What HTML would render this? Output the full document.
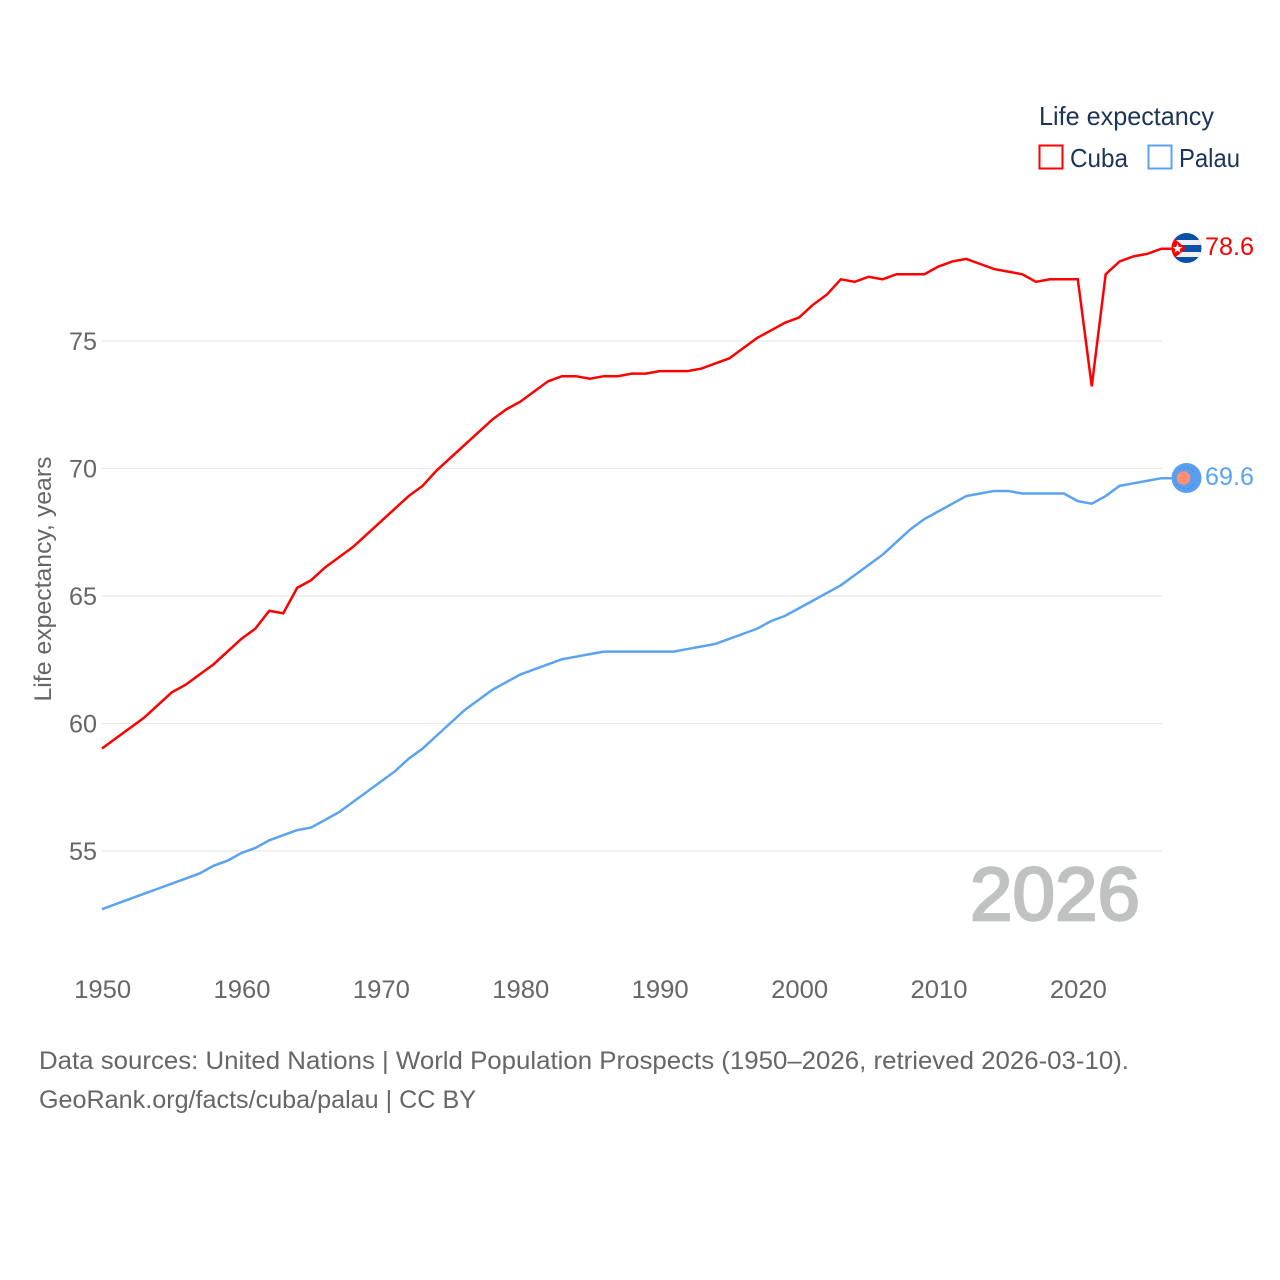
<!DOCTYPE html>
<html lang="en">
<head>
<meta charset="utf-8">
<title>Life expectancy: Cuba and Palau</title>
<style>
html,body{margin:0;padding:0;background:#fff;}
svg{display:block;}
text{font-family:"Liberation Sans",sans-serif;}
</style>
</head>
<body>
<svg id="chart" width="1280" height="1280" viewBox="0 0 1280 1280" xmlns="http://www.w3.org/2000/svg">
  <rect width="1280" height="1280" fill="#fff"/>
  <g id="grid"></g>
  <g id="yticks"></g>
  <g id="xticks"></g>
  <text transform="translate(51,579) rotate(-90)" text-anchor="middle" font-size="24" fill="#666" textLength="245" lengthAdjust="spacingAndGlyphs">Life expectancy, years</text>
  <text x="970" y="920" font-size="75" fill="#c0c2c1" stroke="#c0c2c1" stroke-width="2.4" textLength="170" lengthAdjust="spacingAndGlyphs">2026</text>
  <g id="series"></g>

  <defs>
    <clipPath id="flag-clip-cuba"><circle cx="1186.5" cy="248" r="15"/></clipPath>
    <clipPath id="flag-clip-palau"><circle cx="1186.5" cy="478" r="15"/></clipPath>
  </defs>
  <g clip-path="url(#flag-clip-cuba)">
    <rect x="1171" y="233" width="31" height="30" fill="#0a4fa8"/>
    <rect x="1171" y="240" width="31" height="5" fill="#eef0f3"/>
    <rect x="1171" y="252" width="31" height="5" fill="#eef0f3"/>
    <polygon points="1170,235 1186,248.5 1170,262" fill="#f00"/>
    <polygon points="1177.5,243.5 1178.8,247 1182.3,247 1179.5,249.2 1180.6,252.6 1177.5,250.6 1174.4,252.6 1175.5,249.2 1172.7,247 1176.2,247" fill="#fff"/>
  </g>
  <text x="1205" y="255" font-size="25" fill="#f00" textLength="49" lengthAdjust="spacingAndGlyphs">78.6</text>
  <g clip-path="url(#flag-clip-palau)">
    <rect x="1171" y="463" width="31" height="30" fill="#5a9fef"/>
    <circle cx="1183.5" cy="478" r="6.8" fill="#ff8f75"/>
    <g fill="#1f5fb5" opacity="0.7">
      <circle cx="1180" cy="469" r="0.6"/>
      <circle cx="1184" cy="468" r="0.6"/>
      <circle cx="1188" cy="467.5" r="0.6"/>
      <circle cx="1191" cy="469" r="0.6"/>
      <circle cx="1193" cy="471" r="0.6"/>
      <circle cx="1177" cy="485" r="0.6"/>
      <circle cx="1180" cy="487" r="0.6"/>
      <circle cx="1184" cy="488" r="0.6"/>
      <circle cx="1188" cy="488.5" r="0.6"/>
      <circle cx="1191" cy="487" r="0.6"/>
      <circle cx="1193" cy="485" r="0.6"/>
    </g>
  </g>
  <text x="1205" y="485" font-size="25" fill="#5ba3f0" textLength="49" lengthAdjust="spacingAndGlyphs">69.6</text>

  <g>
    <text x="1039" y="125" font-size="26" fill="#1c3557" textLength="175" lengthAdjust="spacingAndGlyphs">Life expectancy</text>
    <rect x="1039.5" y="145.5" width="23" height="23" fill="none" stroke="#f00" stroke-width="2"/>
    <text x="1070" y="167" font-size="26" fill="#1c3557" textLength="58" lengthAdjust="spacingAndGlyphs">Cuba</text>
    <rect x="1148.5" y="145.5" width="23" height="23" fill="none" stroke="#5ba3f0" stroke-width="2"/>
    <text x="1179" y="167" font-size="26" fill="#1c3557" textLength="61" lengthAdjust="spacingAndGlyphs">Palau</text>
  </g>

  <text x="39" y="1069" font-size="25" fill="#666" textLength="1090" lengthAdjust="spacingAndGlyphs">Data sources: United Nations | World Population Prospects (1950–2026, retrieved 2026-03-10).</text>
  <text x="39" y="1108" font-size="25" fill="#666" textLength="437" lengthAdjust="spacingAndGlyphs">GeoRank.org/facts/cuba/palau | CC BY</text>
</svg>
<script>
const years = [1950,1951,1952,1953,1954,1955,1956,1957,1958,1959,1960,1961,1962,1963,1964,1965,1966,1967,1968,1969,1970,1971,1972,1973,1974,1975,1976,1977,1978,1979,1980,1981,1982,1983,1984,1985,1986,1987,1988,1989,1990,1991,1992,1993,1994,1995,1996,1997,1998,1999,2000,2001,2002,2003,2004,2005,2006,2007,2008,2009,2010,2011,2012,2013,2014,2015,2016,2017,2018,2019,2020,2021,2022,2023,2024,2025,2026];
const cubaValues = [59.0,59.4,59.8,60.2,60.7,61.2,61.5,61.9,62.3,62.8,63.3,63.7,64.4,64.3,65.3,65.6,66.1,66.5,66.9,67.4,67.9,68.4,68.9,69.3,69.9,70.4,70.9,71.4,71.9,72.3,72.6,73.0,73.4,73.6,73.6,73.5,73.6,73.6,73.7,73.7,73.8,73.8,73.8,73.9,74.1,74.3,74.7,75.1,75.4,75.7,75.9,76.4,76.8,77.4,77.3,77.5,77.4,77.6,77.6,77.6,77.9,78.1,78.2,78.0,77.8,77.7,77.6,77.3,77.4,77.4,77.4,73.2,77.6,78.1,78.3,78.4,78.6];
const palauValues = [52.7,52.9,53.1,53.3,53.5,53.7,53.9,54.1,54.4,54.6,54.9,55.1,55.4,55.6,55.8,55.9,56.2,56.5,56.9,57.3,57.7,58.1,58.6,59.0,59.5,60.0,60.5,60.9,61.3,61.6,61.9,62.1,62.3,62.5,62.6,62.7,62.8,62.8,62.8,62.8,62.8,62.8,62.9,63.0,63.1,63.3,63.5,63.7,64.0,64.2,64.5,64.8,65.1,65.4,65.8,66.2,66.6,67.1,67.6,68.0,68.3,68.6,68.9,69.0,69.1,69.1,69.0,69.0,69.0,69.0,68.7,68.6,68.9,69.3,69.4,69.5,69.6];
const yTickValues = [55,60,65,70,75];
const xTickValues = [1950,1960,1970,1980,1990,2000,2010,2020];

const NS = 'http://www.w3.org/2000/svg';
const xScale = function (year) { return 102 + (year - 1950) * 13.94; };
const yScale = function (value) { return 850.5 - (value - 55) * 25.5; };

const grid = document.getElementById('grid');
const yticks = document.getElementById('yticks');
const xticks = document.getElementById('xticks');
const series = document.getElementById('series');

yTickValues.forEach(function (value) {
  const gridY = yScale(value) + 0.5;
  const line = document.createElementNS(NS, 'line');
  
  
  line.setAttribute('x1', 102);
  line.setAttribute('x2', 1162);
  line.setAttribute('y1', gridY);
  line.setAttribute('y2', gridY);
  line.setAttribute('stroke', '#e6e8ec');
  line.setAttribute('stroke-width', '1.3');
  grid.appendChild(line);

  const label = document.createElementNS(NS, 'text');
  
  
  label.setAttribute('x', 97);
  label.setAttribute('y', gridY + 9);
  label.setAttribute('text-anchor', 'end');
  label.setAttribute('font-size', '25');
  label.setAttribute('fill', '#666');
  label.setAttribute('textLength', '28');
  label.setAttribute('lengthAdjust', 'spacingAndGlyphs');
  label.textContent = String(value);
  yticks.appendChild(label);
});

xTickValues.forEach(function (year) {
  const label = document.createElementNS(NS, 'text');
  
  
  label.setAttribute('x', xScale(year) + 0.6);
  label.setAttribute('y', 998);
  label.setAttribute('text-anchor', 'middle');
  label.setAttribute('font-size', '25');
  label.setAttribute('fill', '#666');
  label.setAttribute('textLength', '57');
  label.setAttribute('lengthAdjust', 'spacingAndGlyphs');
  label.textContent = String(year);
  xticks.appendChild(label);
});

function linePoints(values) {
  const pts = values.map(function (value, i) {
    return xScale(years[i]).toFixed(2) + ',' + yScale(value).toFixed(2);
  });
  // short flat connector from the last data point to the flag marker
  const last = values[values.length - 1];
  pts.push((xScale(years[years.length - 1]) + 10).toFixed(2) + ',' + yScale(last).toFixed(2));
  return pts.join(' ');
}

const palauLine = document.createElementNS(NS, 'polyline');


palauLine.setAttribute('points', linePoints(palauValues));
palauLine.setAttribute('fill', 'none');
palauLine.setAttribute('stroke', '#5ba3f0');
palauLine.setAttribute('stroke-width', '2.5');
series.appendChild(palauLine);

const cubaLine = document.createElementNS(NS, 'polyline');


cubaLine.setAttribute('points', linePoints(cubaValues));
cubaLine.setAttribute('fill', 'none');
cubaLine.setAttribute('stroke', '#f00');
cubaLine.setAttribute('stroke-width', '2.5');
series.appendChild(cubaLine);
</script>
</body>
</html>
